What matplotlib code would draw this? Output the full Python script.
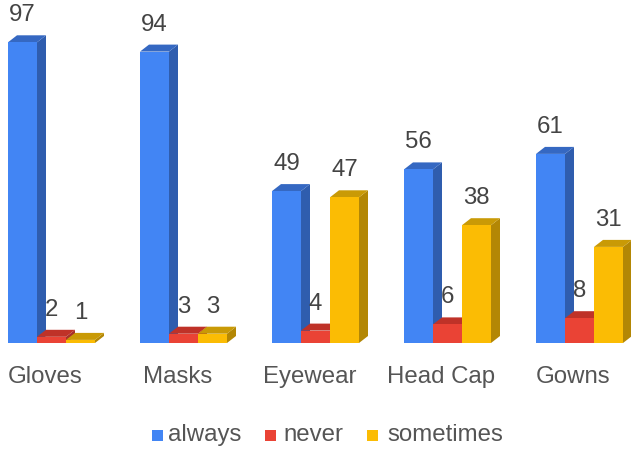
import matplotlib
matplotlib.use("Agg")
import matplotlib.pyplot as plt
from matplotlib.patches import Polygon, Rectangle

categories = ["Gloves", "Masks", "Eyewear", "Head Cap", "Gowns"]
series_names = ["always", "never", "sometimes"]
always = [97, 94, 49, 56, 61]
never = [2, 3, 4, 6, 8]
sometimes = [1, 3, 47, 38, 31]
series_values = [always, never, sometimes]

front_colors = ["#4285F4", "#EA4335", "#FBBC04"]
side_colors = ["#2F5DAE", "#A8302A", "#B38705"]
top_colors = ["#3568C2", "#BF3228", "#C99A06"]

W, H = 631, 450
fig = plt.figure(figsize=(W / 100, H / 100), dpi=100)
ax = fig.add_axes([0, 0, 1, 1])

# pixel geometry expressed in data units
px_per_group = 132.0
px_per_unit = 3.1
x0_px = 51.5          # centre of first group
base_px = 343.0       # baseline, from top
ax.set_xlim(-x0_px / px_per_group, (W - x0_px) / px_per_group)
ax.set_ylim(-(H - base_px) / px_per_unit, base_px / px_per_unit)
ax.axis("off")

bar_w = 29.0 / px_per_group
dx = 9.0 / px_per_group
dy = 7.0 / px_per_unit

font = "Liberation Sans"

for gi in range(len(categories)):
    for si, vals in enumerate(series_values):
        v = vals[gi]
        left = gi + (si - 1) * bar_w - bar_w / 2
        right = left + bar_w
        z = 2 + gi * 3 + si
        # side face
        ax.add_patch(Polygon([(right, 0), (right + dx, dy), (right + dx, v + dy), (right, v)],
                             closed=True, facecolor=side_colors[si], edgecolor="none", zorder=z))
        # top face
        ax.add_patch(Polygon([(left, v), (left + dx, v + dy), (right + dx, v + dy), (right, v)],
                             closed=True, facecolor=top_colors[si], edgecolor="none", zorder=z))
        # front face
        ax.bar(left, v, width=bar_w, align="edge", color=front_colors[si], edgecolor="none",
               zorder=z + 0.5)
        ax.text((left + right) / 2, v + dy + 9.0 / px_per_unit, str(v), ha="center", va="bottom",
                fontsize=17.3, color="#444444", family=font, zorder=50)

# category labels
label_shift = -6.0 / px_per_group
label_y = -(377.0 - base_px) / px_per_unit
for gi, cat in enumerate(categories):
    ax.text(gi + label_shift, label_y, cat, ha="center", va="center",
            fontsize=17.3, color="#555555", family=font)

# legend drawn in figure pixel coordinates
sq = 11
legend_sq_x = [152, 265, 367]
legend_txt_x = [168, 283, 387]
legend_y = 435
for c, n, sx, tx in zip(front_colors, series_names, legend_sq_x, legend_txt_x):
    fig.patches.append(Rectangle((sx / W, 1 - (legend_y + sq / 2) / H), sq / W, sq / H,
                                 transform=fig.transFigure, facecolor=c, edgecolor="none"))
    fig.text(tx / W, 1 - legend_y / H, n, ha="left", va="center", fontsize=17.3,
             color="#555555", family=font)

fig.savefig("out.png", dpi=100)
